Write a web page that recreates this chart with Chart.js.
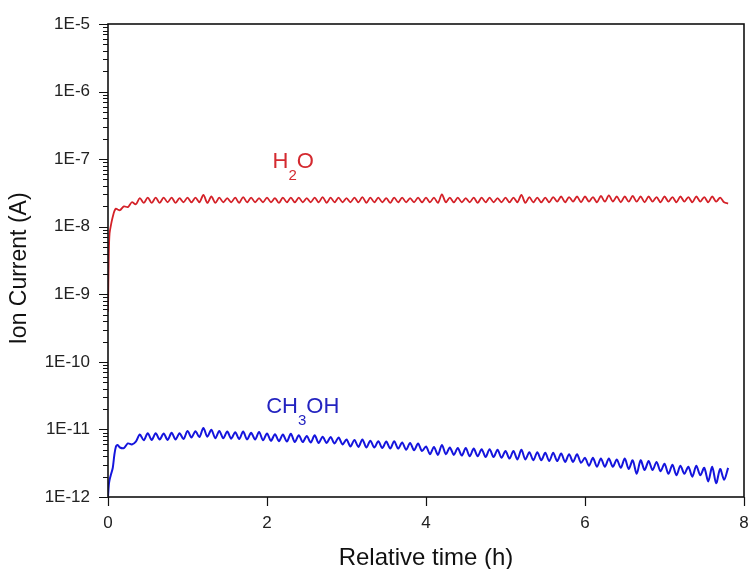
<!DOCTYPE html>
<html>
<head>
<meta charset="utf-8">
<script src="https://cdn.jsdelivr.net/npm/chart.js@4.4.1/dist/chart.umd.min.js"></script>
<style>
  html, body { margin: 0; padding: 0; background: #fff; }
  #wrap { width: 754px; height: 569px; }
</style>
</head>
<body>
<div id="wrap"><canvas id="ionChart"></canvas></div>
<script>
// --- DATA ---
const timeHours = [
  0, 0.01, 0.02, 0.04, 0.06, 0.08, 0.1, 0.12, 0.15,
  0.2, 0.25, 0.3, 0.35, 0.4, 0.45, 0.5, 0.55, 0.6, 0.65, 0.7, 0.75, 0.8, 0.85, 0.9, 0.95,
  1.0, 1.05, 1.1, 1.15, 1.2, 1.25, 1.3, 1.35, 1.4, 1.45, 1.5, 1.55, 1.6, 1.65, 1.7, 1.75, 1.8, 1.85, 1.9, 1.95,
  2.0, 2.05, 2.1, 2.15, 2.2, 2.25, 2.3, 2.35, 2.4, 2.45, 2.5, 2.55, 2.6, 2.65, 2.7, 2.75, 2.8, 2.85, 2.9, 2.95,
  3.0, 3.05, 3.1, 3.15, 3.2, 3.25, 3.3, 3.35, 3.4, 3.45, 3.5, 3.55, 3.6, 3.65, 3.7, 3.75, 3.8, 3.85, 3.9, 3.95,
  4.0, 4.05, 4.1, 4.15, 4.2, 4.25, 4.3, 4.35, 4.4, 4.45, 4.5, 4.55, 4.6, 4.65, 4.7, 4.75, 4.8, 4.85, 4.9, 4.95,
  5.0, 5.05, 5.1, 5.15, 5.2, 5.25, 5.3, 5.35, 5.4, 5.45, 5.5, 5.55, 5.6, 5.65, 5.7, 5.75, 5.8, 5.85, 5.9, 5.95,
  6.0, 6.05, 6.1, 6.15, 6.2, 6.25, 6.3, 6.35, 6.4, 6.45, 6.5, 6.55, 6.6, 6.65, 6.7, 6.75, 6.8, 6.85, 6.9, 6.95,
  7.0, 7.05, 7.1, 7.15, 7.2, 7.25, 7.3, 7.35, 7.4, 7.45, 7.5, 7.55, 7.6, 7.65, 7.7, 7.75, 7.8
];

const h2oCurrent = [
  5.5e-10, 4e-9, 8e-9, 1.1e-8, 1.4e-8, 1.7e-8, 1.85e-8, 1.8e-8, 1.75e-8,
  2.0e-8, 1.95e-8, 2.3e-8, 2.15e-8, 2.65e-8, 2.25e-8, 2.7e-8, 2.25e-8, 2.7e-8, 2.25e-8, 2.7e-8, 2.3e-8, 2.7e-8, 2.25e-8, 2.65e-8, 2.3e-8,
  2.7e-8, 2.3e-8, 2.7e-8, 2.3e-8, 2.95e-8, 2.25e-8, 2.8e-8, 2.25e-8, 2.7e-8, 2.3e-8, 2.65e-8, 2.3e-8, 2.7e-8, 2.25e-8, 2.75e-8, 2.3e-8, 2.7e-8, 2.3e-8, 2.65e-8, 2.3e-8,
  2.7e-8, 2.3e-8, 2.65e-8, 2.25e-8, 2.7e-8, 2.3e-8, 2.7e-8, 2.3e-8, 2.7e-8, 2.3e-8, 2.65e-8, 2.3e-8, 2.7e-8, 2.3e-8, 2.75e-8, 2.25e-8, 2.7e-8, 2.3e-8, 2.7e-8, 2.3e-8,
  2.65e-8, 2.3e-8, 2.7e-8, 2.3e-8, 2.75e-8, 2.25e-8, 2.7e-8, 2.3e-8, 2.7e-8, 2.3e-8, 2.65e-8, 2.25e-8, 2.7e-8, 2.3e-8, 2.7e-8, 2.3e-8, 2.65e-8, 2.3e-8, 2.7e-8, 2.3e-8,
  2.7e-8, 2.3e-8, 2.7e-8, 2.25e-8, 3.0e-8, 2.3e-8, 2.7e-8, 2.3e-8, 2.7e-8, 2.3e-8, 2.65e-8, 2.3e-8, 2.7e-8, 2.25e-8, 2.7e-8, 2.3e-8, 2.7e-8, 2.3e-8, 2.65e-8, 2.3e-8,
  2.7e-8, 2.3e-8, 2.7e-8, 2.3e-8, 2.95e-8, 2.25e-8, 2.75e-8, 2.3e-8, 2.7e-8, 2.3e-8, 2.7e-8, 2.3e-8, 2.75e-8, 2.35e-8, 2.8e-8, 2.3e-8, 2.75e-8, 2.35e-8, 2.8e-8, 2.3e-8,
  2.8e-8, 2.35e-8, 2.75e-8, 2.3e-8, 2.85e-8, 2.35e-8, 2.9e-8, 2.35e-8, 2.8e-8, 2.3e-8, 2.8e-8, 2.35e-8, 2.85e-8, 2.35e-8, 2.8e-8, 2.3e-8, 2.8e-8, 2.35e-8, 2.75e-8, 2.3e-8,
  2.8e-8, 2.35e-8, 2.75e-8, 2.3e-8, 2.8e-8, 2.35e-8, 2.75e-8, 2.3e-8, 2.8e-8, 2.35e-8, 2.75e-8, 2.3e-8, 2.8e-8, 2.35e-8, 2.7e-8, 2.3e-8, 2.2e-8
];

const ch3ohCurrent = [
  1.0e-12, 1.5e-12, 1.8e-12, 2.2e-12, 2.7e-12, 4.2e-12, 5.6e-12, 5.9e-12, 5.4e-12,
  5.3e-12, 6.2e-12, 6.0e-12, 6.6e-12, 8.4e-12, 6.9e-12, 8.8e-12, 7.0e-12, 8.8e-12, 7.1e-12, 8.7e-12, 7.0e-12, 8.9e-12, 7.1e-12, 8.8e-12, 7.2e-12,
  9.5e-12, 7.6e-12, 9.4e-12, 7.7e-12, 1.05e-11, 7.8e-12, 9.9e-12, 7.4e-12, 9.5e-12, 7.4e-12, 9.3e-12, 7.3e-12, 9.1e-12, 7.2e-12, 9.3e-12, 7.1e-12, 8.9e-12, 7.1e-12, 9.2e-12, 6.9e-12,
  8.7e-12, 6.8e-12, 8.5e-12, 6.7e-12, 8.4e-12, 6.6e-12, 8.6e-12, 6.5e-12, 8.2e-12, 6.5e-12, 8.0e-12, 6.4e-12, 8.2e-12, 6.3e-12, 7.8e-12, 6.3e-12, 7.7e-12, 6.2e-12, 7.6e-12, 6.0e-12,
  7.1e-12, 5.6e-12, 7.0e-12, 5.5e-12, 7.1e-12, 5.4e-12, 6.8e-12, 5.4e-12, 6.7e-12, 5.3e-12, 6.6e-12, 5.2e-12, 6.7e-12, 5.2e-12, 6.4e-12, 5.0e-12, 6.3e-12, 4.9e-12, 6.2e-12, 4.8e-12,
  5.6e-12, 4.3e-12, 5.5e-12, 4.2e-12, 5.9e-12, 4.3e-12, 5.4e-12, 4.2e-12, 5.3e-12, 4.1e-12, 5.3e-12, 4.0e-12, 5.2e-12, 4.0e-12, 5.1e-12, 3.9e-12, 5.1e-12, 3.9e-12, 5.0e-12, 3.8e-12,
  4.8e-12, 3.7e-12, 4.8e-12, 3.6e-12, 5.0e-12, 3.6e-12, 4.6e-12, 3.5e-12, 4.6e-12, 3.5e-12, 4.5e-12, 3.4e-12, 4.5e-12, 3.4e-12, 4.4e-12, 3.3e-12, 4.3e-12, 3.3e-12, 4.3e-12, 3.2e-12,
  3.8e-12, 2.9e-12, 3.8e-12, 2.8e-12, 3.7e-12, 2.8e-12, 3.7e-12, 2.8e-12, 3.6e-12, 2.7e-12, 3.7e-12, 2.6e-12, 3.5e-12, 2.2e-12, 3.5e-12, 2.5e-12, 3.4e-12, 2.5e-12, 3.3e-12, 2.4e-12,
  3.1e-12, 2.2e-12, 3.0e-12, 2.1e-12, 2.9e-12, 2.2e-12, 2.8e-12, 2.0e-12, 2.9e-12, 2.1e-12, 2.7e-12, 1.7e-12, 2.8e-12, 1.6e-12, 2.6e-12, 1.8e-12, 2.7e-12
];

const seriesNames = ['H2O', 'CH3OH'];
const seriesColors = ['#d42128', '#1515dd'];
const labelColors = ['#d42a30', '#2424c0'];
// label anchor [time, current] and the pieces of each formula: [text, isSubscript]
const labelAnchors = [[2.07, 7.4e-8], [1.99, 1.73e-11]];
const labelParts = [
  [['H', false], ['2', true], ['O', false]],
  [['CH', false], ['3', true], ['OH', false]]
];

const xTitle = 'Relative time (h)';
const yTitle = 'Ion Current (A)';
const xTicks = [0, 2, 4, 6, 8];
const yDecades = [1e-12, 1e-11, 1e-10, 1e-9, 1e-8, 1e-7, 1e-6, 1e-5];

const FONT = "'Liberation Sans', Arial, sans-serif";

function toPoints(values) {
  return values.map((v, i) => ({ x: timeHours[i], y: v }));
}

// keep label overflow from pushing the plot area around
function noOverflow(scale) {
  scale.paddingLeft = 0;
  scale.paddingRight = 0;
  scale.paddingTop = 0;
  scale.paddingBottom = 0;
}

// frame, log tick marks (major longer than minor), axis titles, formula labels
const framePlugin = {
  id: 'frame',
  afterDraw(chart) {
    const ctx = chart.ctx;
    const area = chart.chartArea;
    const yScale = chart.scales.y;
    const xScale = chart.scales.x;
    ctx.save();
    ctx.strokeStyle = '#111';
    ctx.lineWidth = 1.6;
    ctx.strokeRect(area.left, area.top, area.right - area.left, area.bottom - area.top);

    ctx.lineWidth = 1.2;
    ctx.beginPath();
    yScale.ticks.forEach(t => {
      const py = Math.round(yScale.getPixelForValue(t.value)) + 0.5;
      const isMajor = yDecades.some(d => Math.abs(d - t.value) / d < 1e-6);
      const len = isMajor ? 9 : 5;
      ctx.moveTo(area.left, py);
      ctx.lineTo(area.left - len, py);
    });
    xTicks.forEach(v => {
      const px = Math.round(xScale.getPixelForValue(v)) + 0.5;
      ctx.moveTo(px, area.bottom);
      ctx.lineTo(px, area.bottom + 9);
    });
    ctx.stroke();

    // axis titles
    ctx.fillStyle = '#111';
    ctx.textAlign = 'center';
    ctx.textBaseline = 'middle';
    ctx.font = '24px ' + FONT;
    ctx.fillText(xTitle, (area.left + area.right) / 2, area.bottom + 61);
    ctx.save();
    ctx.translate(20, (area.top + area.bottom) / 2 + 8);
    ctx.rotate(-Math.PI / 2);
    ctx.font = '23px ' + FONT;
    ctx.fillText(yTitle, 0, 0);
    ctx.restore();

    labelAnchors.forEach((a, k) => {
      let px = xScale.getPixelForValue(a[0]);
      const py = yScale.getPixelForValue(a[1]);
      ctx.fillStyle = labelColors[k];
      ctx.textBaseline = 'alphabetic';
      ctx.textAlign = 'left';
      labelParts[k].forEach(p => {
        if (p[1]) {
          ctx.font = '15px ' + FONT;
          ctx.fillText(p[0], px, py + 12);
        } else {
          ctx.font = '22px ' + FONT;
          ctx.fillText(p[0], px, py);
        }
        px += ctx.measureText(p[0]).width;
      });
    });
    ctx.restore();
  }
};

new Chart(document.getElementById('ionChart').getContext('2d'), {
  type: 'line',
  data: {
    datasets: [
      {
        label: seriesNames[0],
        data: toPoints(h2oCurrent),
        borderColor: seriesColors[0],
        borderWidth: 1.8,
        pointRadius: 0,
        tension: 0.3,
        fill: false
      },
      {
        label: seriesNames[1],
        data: toPoints(ch3ohCurrent),
        borderColor: seriesColors[1],
        borderWidth: 2,
        pointRadius: 0,
        tension: 0.3,
        fill: false
      }
    ]
  },
  options: {
    responsive: true,
    maintainAspectRatio: false,
    animation: false,
    layout: { padding: { left: 0, right: 10, top: 24, bottom: 0 } },
    plugins: {
      legend: { display: false },
      tooltip: { enabled: false }
    },
    scales: {
      x: {
        type: 'linear',
        min: 0,
        max: 8,
        afterBuildTicks: scale => { scale.ticks = xTicks.map(v => ({ value: v })); },
        afterFit: scale => { scale.height = 72; noOverflow(scale); },
        grid: { display: false, drawTicks: false },
        border: { display: false },
        ticks: {
          color: '#222',
          padding: 16,
          font: { family: FONT, size: 17 }
        },
        title: { display: false }
      },
      y: {
        type: 'logarithmic',
        min: 1e-12,
        max: 1e-5,
        afterBuildTicks: scale => {
          const ticks = [];
          yDecades.forEach((d, i) => {
            ticks.push({ value: d });
            if (i < yDecades.length - 1) {
              for (let m = 2; m <= 9; m++) ticks.push({ value: m * d });
            }
          });
          scale.ticks = ticks;
        },
        afterFit: scale => { scale.width = 108; noOverflow(scale); },
        grid: { display: false, drawTicks: false },
        border: { display: false },
        ticks: {
          color: '#222',
          padding: 18,
          autoSkip: false,
          font: { family: FONT, size: 17 },
          callback: function (value) {
            const e = Math.round(Math.log10(value));
            const isMajor = Math.abs(Math.pow(10, e) - value) / value < 1e-6;
            return isMajor ? '1E' + e : '';
          }
        },
        title: { display: false }
      }
    }
  },
  plugins: [framePlugin]
});
</script>
</body>
</html>
